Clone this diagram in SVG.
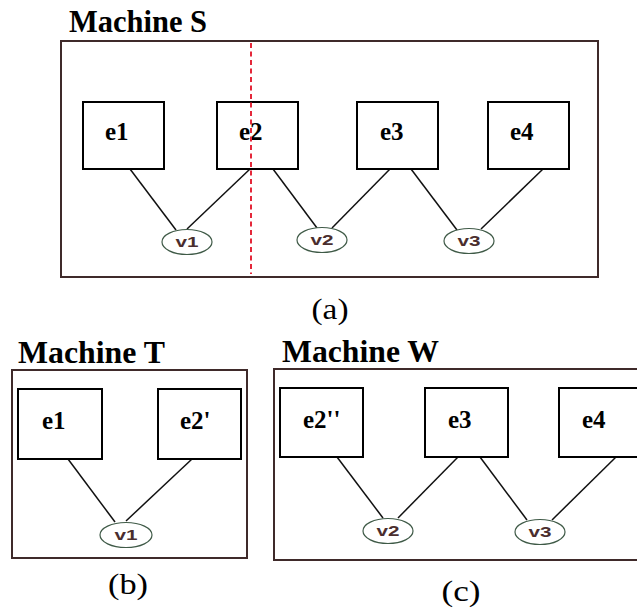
<svg xmlns="http://www.w3.org/2000/svg" width="637" height="610" viewBox="0 0 637 610">
<style>
.frame{fill:none;stroke:#3f2a2a;stroke-width:2}
.box{fill:#fff;stroke:#000;stroke-width:2}
.title{font-family:"Liberation Serif",serif;font-weight:bold;font-size:31px;fill:#000}
.lbl{font-family:"Liberation Serif",serif;font-weight:bold;font-size:25px;fill:#000}
.ell{fill:#fff;stroke:#3f5a47;stroke-width:1.2}
.vt{font-family:"Liberation Sans",sans-serif;font-weight:bold;font-size:14px;fill:#4a2e2e;text-anchor:middle}
.cap{font-family:"Liberation Serif",serif;font-size:30px;fill:#000;text-anchor:middle}
.edge{stroke:#111;stroke-width:1.5;fill:none}
.cut{stroke:#e4283a;stroke-width:2;stroke-dasharray:5 3.5;fill:none}
</style>
<rect width="637" height="610" fill="#fff"/>

<!-- (a) Machine S -->
<g id="machineS">
<rect class="frame" x="61" y="41" width="537" height="236"/>
<text class="title" x="69" y="32" textLength="138" lengthAdjust="spacingAndGlyphs">Machine S</text>
</g>
<g id="connectorsA">
<line class="edge" x1="130" y1="169" x2="176" y2="230"/>
<line class="edge" x1="250" y1="169" x2="187" y2="229"/>
<line class="edge" x1="273" y1="169" x2="317" y2="228"/>
<line class="edge" x1="390" y1="169" x2="332" y2="228"/>
<line class="edge" x1="411" y1="169" x2="457" y2="230"/>
<line class="edge" x1="543" y1="169" x2="481" y2="229"/>
</g>
<g id="S_e1"><rect class="box" x="83" y="102" width="81" height="67"/><text class="lbl" x="105" y="140">e1</text></g>
<g id="S_e2"><rect class="box" x="217" y="102" width="81" height="67"/><text class="lbl" x="239" y="140">e2</text></g>
<g id="S_e3"><rect class="box" x="357" y="102" width="81" height="67"/><text class="lbl" x="380" y="140">e3</text></g>
<g id="S_e4"><rect class="box" x="488" y="102" width="81" height="67"/><text class="lbl" x="510" y="140">e4</text></g>
<g id="S_v1"><ellipse class="ell" cx="187" cy="242" rx="25" ry="12.5"/><text class="vt" x="187" y="247" textLength="23" lengthAdjust="spacingAndGlyphs">v1</text></g>
<g id="S_v2"><ellipse class="ell" cx="322" cy="240" rx="25" ry="12.5"/><text class="vt" x="322" y="245" textLength="23" lengthAdjust="spacingAndGlyphs">v2</text></g>
<g id="S_v3"><ellipse class="ell" cx="469" cy="241" rx="25" ry="12.5"/><text class="vt" x="469" y="246" textLength="23" lengthAdjust="spacingAndGlyphs">v3</text></g>
<line id="cutline" class="cut" x1="251" y1="43" x2="251" y2="274"/>
<text class="cap" x="330" y="319" textLength="37" lengthAdjust="spacingAndGlyphs">(a)</text>

<!-- (b) Machine T -->
<g id="machineT">
<rect class="frame" x="12" y="370" width="235" height="188"/>
<text class="title" x="18" y="363" textLength="147" lengthAdjust="spacingAndGlyphs">Machine T</text>
</g>
<g id="connectorsB">
<line class="edge" x1="68" y1="459" x2="115" y2="522"/>
<line class="edge" x1="192" y1="459" x2="126" y2="521"/>
</g>
<g id="T_e1"><rect class="box" x="18" y="389" width="84" height="70"/><text class="lbl" x="42" y="429">e1</text></g>
<g id="T_e2p"><rect class="box" x="158" y="389" width="83" height="70"/><text class="lbl" x="180" y="429">e2'</text></g>
<g id="T_v1"><ellipse class="ell" cx="126" cy="535" rx="26" ry="12.5"/><text class="vt" x="126" y="540" textLength="23" lengthAdjust="spacingAndGlyphs">v1</text></g>
<text class="cap" x="128" y="594" textLength="40" lengthAdjust="spacingAndGlyphs">(b)</text>

<!-- (c) Machine W -->
<g id="machineW">
<rect class="frame" x="274" y="369" width="380" height="191"/>
<text class="title" x="282" y="362" textLength="157" lengthAdjust="spacingAndGlyphs">Machine W</text>
</g>
<g id="connectorsC">
<line class="edge" x1="337" y1="457" x2="383" y2="518"/>
<line class="edge" x1="458" y1="457" x2="398" y2="518"/>
<line class="edge" x1="480" y1="457" x2="527" y2="520"/>
<line class="edge" x1="616" y1="457" x2="552" y2="520"/>
</g>
<g id="W_e2pp"><rect class="box" x="280" y="388" width="83" height="69"/><text class="lbl" x="303" y="428">e2''</text></g>
<g id="W_e3"><rect class="box" x="425" y="388" width="83" height="69"/><text class="lbl" x="448" y="428">e3</text></g>
<g id="W_e4"><rect class="box" x="559" y="388" width="84" height="69"/><text class="lbl" x="582" y="428">e4</text></g>
<g id="W_v2"><ellipse class="ell" cx="388" cy="531" rx="25" ry="12.5"/><text class="vt" x="388" y="536" textLength="23" lengthAdjust="spacingAndGlyphs">v2</text></g>
<g id="W_v3"><ellipse class="ell" cx="540" cy="532" rx="25" ry="12.5"/><text class="vt" x="540" y="537" textLength="23" lengthAdjust="spacingAndGlyphs">v3</text></g>
<text class="cap" x="461" y="601" textLength="39" lengthAdjust="spacingAndGlyphs">(c)</text>
</svg>
